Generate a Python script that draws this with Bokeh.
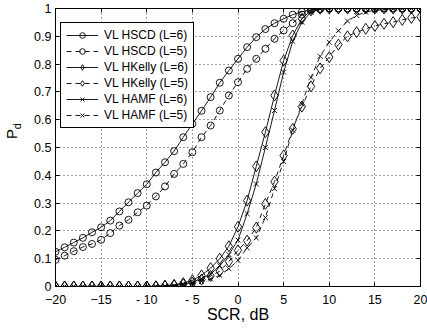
from bokeh.plotting import figure
from bokeh.layouts import row
from bokeh.models import (Range1d, FixedTicker, LinearAxis, Legend, LegendItem,
                          PrintfTickFormatter)
from bokeh.core.properties import value
from bokeh.embed import file_html
from bokeh.resources import INLINE

# ---------------- data ----------------
scr_db = list(range(-20, 21))

hscd_l6 = [0.125, 0.141, 0.158, 0.175, 0.195, 0.213, 0.237, 0.270, 0.303, 0.336,
           0.368, 0.410, 0.447, 0.487, 0.537, 0.585, 0.632, 0.681, 0.733, 0.777,
           0.819, 0.861, 0.897, 0.926, 0.947, 0.963, 0.978, 0.988, 0.996, 0.999,
           1.0, 1.0, 1.0, 1.0, 1.0, 1.0, 1.0, 1.0, 1.0, 1.0, 1.0]
hscd_l5 = [0.096, 0.111, 0.127, 0.142, 0.153, 0.168, 0.192, 0.219, 0.240, 0.267,
           0.291, 0.324, 0.360, 0.405, 0.441, 0.483, 0.537, 0.579, 0.633, 0.687,
           0.735, 0.783, 0.819, 0.855, 0.891, 0.921, 0.947, 0.978, 0.993, 0.998,
           1.0, 1.0, 1.0, 1.0, 1.0, 1.0, 1.0, 1.0, 1.0, 1.0, 1.0]
hkelly_l6 = [0.0, 0.0, 0.0, 0.0, 0.0, 0.0, 0.0, 0.0, 0.0, 0.0,
             0.0, 0.001, 0.003, 0.006, 0.012, 0.022, 0.040, 0.066, 0.100, 0.145,
             0.215, 0.309, 0.432, 0.555, 0.687, 0.813, 0.903, 0.963, 0.993, 0.999,
             1.0, 1.0, 1.0, 1.0, 1.0, 1.0, 1.0, 1.0, 1.0, 1.0, 1.0]
hkelly_l5 = [0.0, 0.0, 0.0, 0.0, 0.0, 0.0, 0.0, 0.0, 0.0, 0.0,
             0.0, 0.0, 0.002, 0.004, 0.008, 0.014, 0.025, 0.038, 0.055, 0.090,
             0.130, 0.165, 0.212, 0.297, 0.377, 0.471, 0.567, 0.647, 0.720, 0.785,
             0.825, 0.870, 0.900, 0.915, 0.927, 0.937, 0.945, 0.951, 0.959, 0.966, 0.970]
hamf_l6 = [0.0, 0.0, 0.0, 0.0, 0.0, 0.0, 0.0, 0.0, 0.0, 0.0,
           0.0, 0.0, 0.001, 0.003, 0.008, 0.015, 0.028, 0.044, 0.075, 0.115,
           0.167, 0.262, 0.369, 0.500, 0.633, 0.771, 0.882, 0.951, 0.987, 0.998,
           1.0, 1.0, 1.0, 1.0, 1.0, 1.0, 1.0, 1.0, 1.0, 1.0, 1.0]
hamf_l5 = [0.0, 0.0, 0.0, 0.0, 0.0, 0.0, 0.0, 0.0, 0.0, 0.0,
           0.0, 0.0, 0.001, 0.002, 0.005, 0.010, 0.018, 0.027, 0.040, 0.064,
           0.094, 0.139, 0.175, 0.248, 0.352, 0.450, 0.562, 0.657, 0.752, 0.828,
           0.879, 0.920, 0.955, 0.975, 0.987, 0.993, 0.997, 0.999, 1.0, 1.0, 1.0]

x_ticks = [-20, -15, -10, -5, 0, 5, 10, 15, 20]
x_tick_labels = {-10: "- 10", -5: "- 5"}
y_ticks = [0, 0.1, 0.2, 0.3, 0.4, 0.5, 0.6, 0.7, 0.8, 0.9, 1]

series = [
    ("VL HSCD (L=6)", hscd_l6, "solid", "circle", 7),
    ("VL HSCD (L=5)", hscd_l5, "5 4", "circle", 7),
    ("VL HKelly (L=6)", hkelly_l6, "solid", "diamond", 11),
    ("VL HKelly (L=5)", hkelly_l5, "5 4", "diamond", 11),
    ("VL HAMF (L=6)", hamf_l6, "solid", "x", 7),
    ("VL HAMF (L=5)", hamf_l5, "5 4", "x", 7),
]

FONT = "Liberation Sans"
H = 328
LEFT_W = 22

# ---------------- main plot ----------------
p = figure(width=427 - LEFT_W, height=H, output_backend="svg", toolbar_location=None,
           x_range=Range1d(-20, 20), y_range=Range1d(0, 1),
           min_border_left=55 - LEFT_W, min_border_right=7, min_border_top=8,
           min_border_bottom=42,
           background_fill_color="white", border_fill_color="white")

p.outline_line_color = "black"
p.outline_line_width = 1

p.xaxis.ticker = FixedTicker(ticks=x_ticks)
p.xaxis.major_label_overrides = x_tick_labels
p.yaxis.ticker = FixedTicker(ticks=y_ticks)
p.yaxis.formatter = PrintfTickFormatter(format="%g")

for ax in (p.xaxis[0], p.yaxis[0]):
    ax.major_tick_in = 4
    ax.major_tick_out = 0
    ax.minor_tick_line_color = None
    ax.axis_line_color = "black"
    ax.major_tick_line_color = "black"
    ax.major_label_text_font = FONT
    ax.major_label_text_font_size = "12.5px"
    ax.major_label_text_color = "black"

p.xaxis.major_label_standoff = 6
p.yaxis.major_label_standoff = 4
p.xaxis.axis_label = "SCR, dB"
p.xaxis.axis_label_text_font = FONT
p.xaxis.axis_label_text_font_size = "16px"
p.xaxis.axis_label_text_font_style = "normal"
p.xaxis.axis_label_text_color = "black"
p.xaxis.axis_label_standoff = -4

# top and right axes (ticks only)
for loc, tk in (("right", y_ticks), ("above", x_ticks)):
    a = LinearAxis(ticker=FixedTicker(ticks=tk), major_tick_in=4, major_tick_out=0,
                   minor_tick_line_color=None, major_label_text_font_size="1px",
                   major_label_overrides={t: "" for t in tk},
                   major_label_standoff=0, axis_line_color="black")
    p.add_layout(a, loc)

for g in (p.xgrid[0], p.ygrid[0]):
    g.ticker = FixedTicker(ticks=x_ticks if g is p.xgrid[0] else y_ticks)
    g.grid_line_color = "#444444"
    g.grid_line_dash = "1 3"
    g.grid_line_width = 1

items = []
for name, ys, dash, marker, size in series:
    lr = p.line(scr_db, ys, line_color="black", line_width=0.9, line_dash=dash)
    sr = p.scatter(scr_db, ys, marker=marker, size=size, fill_color=None,
                   line_color="black", line_width=0.9)
    items.append(LegendItem(label=name, renderers=[lr, sr]))

legend = Legend(items=items, location=(5, 158), padding=5, margin=0, spacing=2,
                glyph_width=32, glyph_height=14, label_height=14, label_standoff=6,
                label_text_font=FONT, label_text_font_size="12px",
                label_text_line_height=1.0,
                label_text_color="black",
                border_line_color="black", border_line_width=1, border_line_alpha=1,
                background_fill_color="white", background_fill_alpha=1)
p.add_layout(legend, "center")

# ---------------- narrow strip holding the y label P_d ----------------
ylab = figure(width=LEFT_W, height=H, output_backend="svg", toolbar_location=None,
              x_range=Range1d(0, LEFT_W), y_range=Range1d(0, H), min_border=0,
              outline_line_color=None, background_fill_color="white",
              border_fill_color="white")
ylab.axis.visible = False
ylab.grid.visible = False
ylab.text(x=[10.5], y=[H - 148], text=["P"], angle=1.5708, text_align="center",
          text_baseline="middle", text_font=value(FONT), text_font_size="15px",
          text_color="black")
ylab.text(x=[16.5], y=[H - 139], text=["d"], angle=1.5708, text_align="center",
          text_baseline="middle", text_font=value(FONT), text_font_size="11px",
          text_color="black")

layout = row(ylab, p, spacing=0)
open("out.html", "w").write(file_html(layout, INLINE))
